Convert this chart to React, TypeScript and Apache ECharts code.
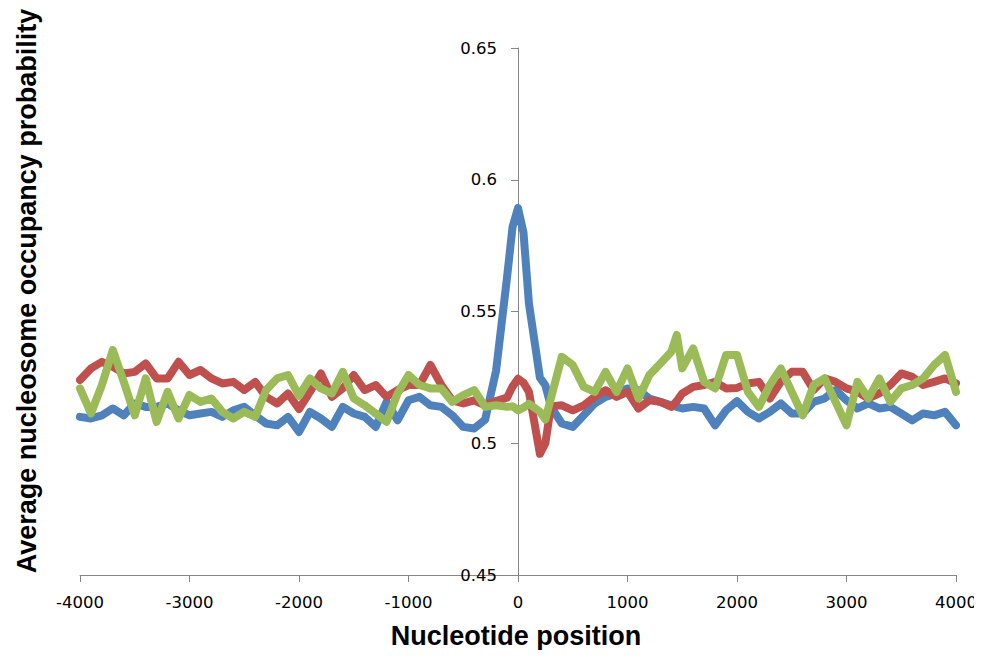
import React, { useEffect, useRef } from "react";
import * as echarts from "echarts";

const positions = [
  -4000, -3900, -3800, -3700, -3600, -3500, -3400, -3300, -3200, -3100,
  -3000, -2900, -2800, -2700, -2600, -2500, -2400, -2300, -2200, -2100,
  -2000, -1900, -1800, -1700, -1600, -1500, -1400, -1300, -1200, -1100,
  -1000, -900, -800, -700, -600, -500, -400, -300, -200, -100,
  -50, 0, 50, 100, 200, 250, 300, 400, 500, 600,
  700, 800, 900, 1000, 1100, 1200, 1300, 1400, 1450, 1500,
  1600, 1700, 1800, 1900, 2000, 2100, 2200, 2300, 2400, 2500,
  2600, 2700, 2800, 2900, 3000, 3100, 3200, 3300, 3400, 3500,
  3600, 3700, 3800, 3900, 4000,
];

const blueValues = [
  0.5100, 0.5094, 0.5106, 0.5132, 0.5106, 0.5151, 0.5138, 0.5138, 0.5151, 0.5125,
  0.5106, 0.5113, 0.5119, 0.5100, 0.5125, 0.5138, 0.5106, 0.5075, 0.5068, 0.5100,
  0.5043, 0.5119, 0.5094, 0.5062, 0.5138, 0.5113, 0.5100, 0.5062, 0.5157, 0.5087,
  0.5163, 0.5176, 0.5144, 0.5138, 0.5106, 0.5062, 0.5056, 0.5090, 0.5276, 0.5630,
  0.5820, 0.5892, 0.5800, 0.5530, 0.5249, 0.5220, 0.5140, 0.5075, 0.5062, 0.5106,
  0.5151, 0.5176, 0.5189, 0.5208, 0.5201, 0.5170, 0.5157, 0.5144, 0.5138, 0.5132,
  0.5138, 0.5132, 0.5068, 0.5125, 0.5160, 0.5119, 0.5094, 0.5119, 0.5151, 0.5113,
  0.5113, 0.5157, 0.5170, 0.5202, 0.5163, 0.5132, 0.5151, 0.5132, 0.5138, 0.5113,
  0.5087, 0.5113, 0.5106, 0.5119, 0.5068,
];

const redValues = [
  0.5240, 0.5284, 0.5309, 0.5290, 0.5265, 0.5271, 0.5303, 0.5246, 0.5246, 0.5309,
  0.5259, 0.5278, 0.5246, 0.5227, 0.5233, 0.5202, 0.5233, 0.5176, 0.5151, 0.5189,
  0.5130, 0.5195, 0.5265, 0.5176, 0.5208, 0.5259, 0.5202, 0.5221, 0.5176, 0.5202,
  0.5221, 0.5221, 0.5297, 0.5221, 0.5163, 0.5151, 0.5163, 0.5144, 0.5160, 0.5173,
  0.5215, 0.5245, 0.5230, 0.5195, 0.4960, 0.5000, 0.5140, 0.5144, 0.5125, 0.5144,
  0.5176, 0.5201, 0.5176, 0.5195, 0.5132, 0.5163, 0.5157, 0.5138, 0.5160, 0.5189,
  0.5214, 0.5221, 0.5233, 0.5208, 0.5210, 0.5227, 0.5233, 0.5170, 0.5233, 0.5271,
  0.5271, 0.5202, 0.5246, 0.5233, 0.5208, 0.5195, 0.5170, 0.5189, 0.5221, 0.5265,
  0.5252, 0.5221, 0.5233, 0.5246, 0.5227,
];

const greenValues = [
  0.5208, 0.5113, 0.5221, 0.5354, 0.5233, 0.5106, 0.5246, 0.5081, 0.5195, 0.5094,
  0.5183, 0.5157, 0.5170, 0.5119, 0.5094, 0.5119, 0.5100, 0.5202, 0.5246, 0.5259,
  0.5180, 0.5246, 0.5208, 0.5189, 0.5271, 0.5170, 0.5144, 0.5113, 0.5081, 0.5189,
  0.5259, 0.5221, 0.5208, 0.5208, 0.5157, 0.5183, 0.5202, 0.5138, 0.5144, 0.5138,
  0.5140, 0.5125, 0.5135, 0.5150, 0.5120, 0.5090, 0.5170, 0.5328, 0.5297, 0.5214,
  0.5195, 0.5271, 0.5195, 0.5284, 0.5170, 0.5259, 0.5303, 0.5347, 0.5411, 0.5284,
  0.5360, 0.5233, 0.5208, 0.5335, 0.5335, 0.5195, 0.5138, 0.5221, 0.5284, 0.5195,
  0.5106, 0.5221, 0.5246, 0.5157, 0.5068, 0.5233, 0.5170, 0.5246, 0.5157, 0.5208,
  0.5221, 0.5246, 0.5297, 0.5335, 0.5195,
];

const xTicks = { min: -4000, max: 4000, interval: 1000 };
const yTicks = { min: 0.45, max: 0.65, interval: 0.05 };

const xTitle = "Nucleotide position";
const yTitle = "Average nucleosome occupancy probability";

const seriesDefs = [
  { name: "Series 1", values: blueValues, color: "#4F81BD" },
  { name: "Series 2", values: redValues, color: "#C0504D" },
  { name: "Series 3", values: greenValues, color: "#9BBB59" },
];

const GRID = { left: 80, right: 26, top: 48, bottom: 83 };
const WIDTH = 982;
const HEIGHT = 658;

export default function App() {
  const ref = useRef<HTMLDivElement>(null);
  useEffect(() => {
    if (!ref.current) return;
    const chart = echarts.init(ref.current, undefined, { renderer: "svg" });
    const axisColor = "#868686";
    const tickFont = "'DejaVu Sans', Verdana, sans-serif";
    const titleFont = "'Liberation Sans', Arial, sans-serif";
    const plotW = WIDTH - GRID.left - GRID.right;
    // place the y axis at x = 0 of the x range
    const zeroOffset = -plotW * ((0 - xTicks.min) / (xTicks.max - xTicks.min));
    chart.setOption({
      animation: false,
      backgroundColor: "#ffffff",
      grid: { ...GRID, containLabel: false },
      xAxis: {
        type: "value",
        min: xTicks.min,
        max: xTicks.max,
        interval: xTicks.interval,
        axisLine: { show: true, onZero: false, lineStyle: { color: axisColor, width: 1 } },
        axisTick: { show: true, length: 7, lineStyle: { color: axisColor } },
        axisLabel: {
          color: "#000",
          fontSize: 16.5,
          fontFamily: tickFont,
          margin: 19,
          formatter: (v: number) => String(v),
        },
        splitLine: { show: false },
      },
      yAxis: {
        type: "value",
        min: yTicks.min,
        max: yTicks.max,
        interval: yTicks.interval,
        position: "left",
        offset: zeroOffset,
        axisLine: { show: true, onZero: false, lineStyle: { color: axisColor, width: 1 } },
        axisTick: { show: true, length: 7, lineStyle: { color: axisColor } },
        axisLabel: {
          color: "#000",
          fontSize: 16.5,
          fontFamily: tickFont,
          margin: 21,
          formatter: (v: number) => String(Number(v.toFixed(2))),
        },
        splitLine: { show: false },
      },
      graphic: [
        {
          type: "text",
          x: 27,
          y: 291,
          rotation: Math.PI / 2,
          style: {
            text: yTitle,
            fill: "#000",
            font: `bold 27px ${titleFont}`,
            textAlign: "center",
            textVerticalAlign: "middle",
          },
        },
        {
          type: "text",
          x: 516,
          y: 636,
          style: {
            text: xTitle,
            fill: "#000",
            font: `bold 27px ${titleFont}`,
            textAlign: "center",
            textVerticalAlign: "middle",
          },
        },
      ],
      series: seriesDefs.map((s) => ({
        name: s.name,
        type: "line",
        showSymbol: false,
        symbol: "none",
        data: positions.map((p, i) => [p, s.values[i]]),
        lineStyle: { color: s.color, width: 8, join: "round", cap: "round" },
        itemStyle: { color: s.color },
      })),
    });
    return () => chart.dispose();
  }, []);
  return <div ref={ref} style={{ width: WIDTH, height: HEIGHT, margin: -8 }} />;
}
